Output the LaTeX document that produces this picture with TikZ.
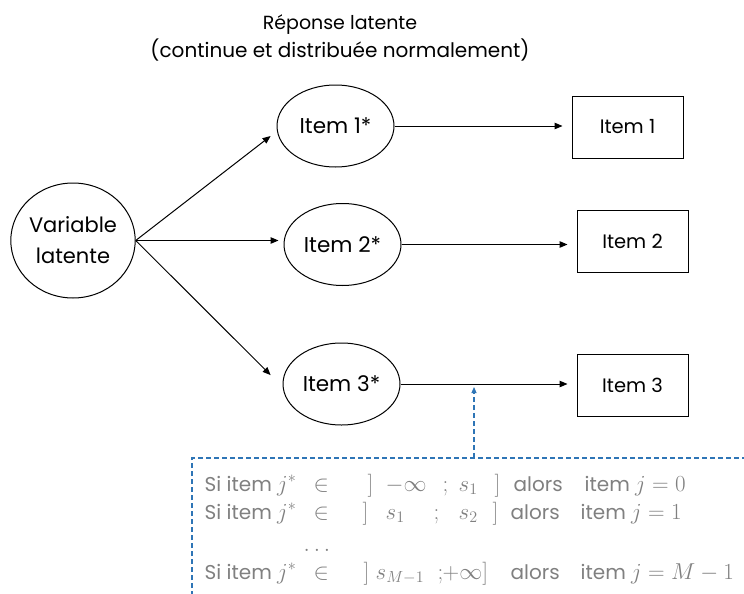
\RequirePackage{fix-cm}
\documentclass[tikz,border=0pt]{standalone}
\usepackage{fontspec}
\setmainfont{Poppins}
\usetikzlibrary{arrows.meta,shapes.geometric}
\definecolor{txtgray}{RGB}{128,128,128}
\definecolor{dashblue}{RGB}{46,117,182}
\newcommand\putat[2]{\makebox[0pt][l]{\hspace{#1pt}#2}}
\newcommand\mth[1]{{\fontsize{23}{24}\selectfont$#1$}}
\begin{document}
\begin{tikzpicture}[x=1pt,y=-1pt,
  lat/.style={draw,ellipse,line width=1pt,inner sep=0pt,minimum width=117pt,minimum height=82pt,font=\fontsize{21.5}{24}\selectfont},
  obs/.style={draw,rectangle,line width=1pt,inner sep=0pt,minimum width=111pt,minimum height=62pt,font=\fontsize{19.5}{24}\selectfont},
  arr/.style={line width=1pt,-{Triangle[length=8pt,width=6.5pt]}},
  ttl/.style={font=\fontsize{20}{26}\selectfont,anchor=base,inner sep=0pt},
  cond/.style={font=\fontsize{20}{23}\selectfont,text=txtgray,anchor=base west,inner sep=0pt},
  blued/.style={dashblue,line width=1.1pt,dash pattern=on 5pt off 3pt}]
\useasboundingbox (0,0) rectangle (744,594);

% title
\node[ttl] (t1) at (340,30) {\fontsize{19}{26}\selectfont Réponse latente};
\node[ttl] (t2) at (340,58) {(continue et distribuée normalement)};

% nodes
\node[lat,minimum width=124pt,minimum height=115pt,align=center,font=\fontsize{21}{31}\selectfont] (var) at (73,240.5) {Variable\\latente};
\node[lat] (i1s) at (335.5,126) {Item 1*};
\node[lat] (i2s) at (342.5,244.5) {Item 2*};
\node[lat] (i3s) at (341.5,384) {Item 3*};
\node[obs] (b1) at (627.5,127) {Item 1};
\node[obs] (b2) at (632.5,241) {Item 2};
\node[obs] (b3) at (632.5,385.5) {Item 3};

% arrows
\draw[arr,shorten >=8pt] (var.east) -- (i1s.185);
\draw[arr,shorten >=5pt] (var.east) -- (var.east -| i2s.west);
\draw[arr,shorten >=17pt] (var.east) -- (i3s.183);
\draw[arr,shorten >=9pt] (i1s.east) -- (i1s.east -| b1.west);
\draw[arr,shorten >=9pt] (i2s.east) -- (i2s.east -| b2.west);
\draw[arr,shorten >=9pt] (i3s.east) -- (i3s.east -| b3.west);

% dashed condition box
\begin{scope}
\clip (0,0) rectangle (744,594);
\draw[blued] (192,620) -- (192,458) -- (770,458);
\end{scope}
\coordinate (ctop) at (474,458);
\draw[blued,-{Triangle[length=6pt,width=5pt]},shorten >=3pt] (ctop) -- (ctop |- i3s.east);

% conditions
\node[cond] (c1) at (204,491) {\putat{0}{Si item \mth{j^*}}\putat{109}{\mth{\in}}\putat{163}{\mth{]}}\putat{181}{\mth{-\infty}}\putat{238}{\mth{;}}\putat{254}{\mth{s_1}}\putat{290}{\mth{]}}\putat{309}{alors}\putat{380}{item \mth{j=0}}};
\node[cond] (c2) at (204,519) {\putat{0}{Si item \mth{j^*}}\putat{109}{\mth{\in}}\putat{158}{\mth{]}}\putat{181}{\mth{s_1}}\putat{229}{\mth{;}}\putat{254}{\mth{s_2}}\putat{288}{\mth{]}}\putat{306}{alors}\putat{376}{item \mth{j=1}}};
\node[cond] (c3) at (204,551) {\putat{99}{\mth{\ldots}}};
\node[cond] (c4) at (204,579) {\putat{0}{Si item \mth{j^*}}\putat{109}{\mth{\in}}\putat{159}{\mth{]}}\putat{171}{\mth{s_{M-1}}}\putat{233}{\mth{;}}\putat{238}{\mth{+\infty]}}\putat{306}{alors}\putat{376}{item \mth{j=M-1}}};
\end{tikzpicture}
\end{document}
